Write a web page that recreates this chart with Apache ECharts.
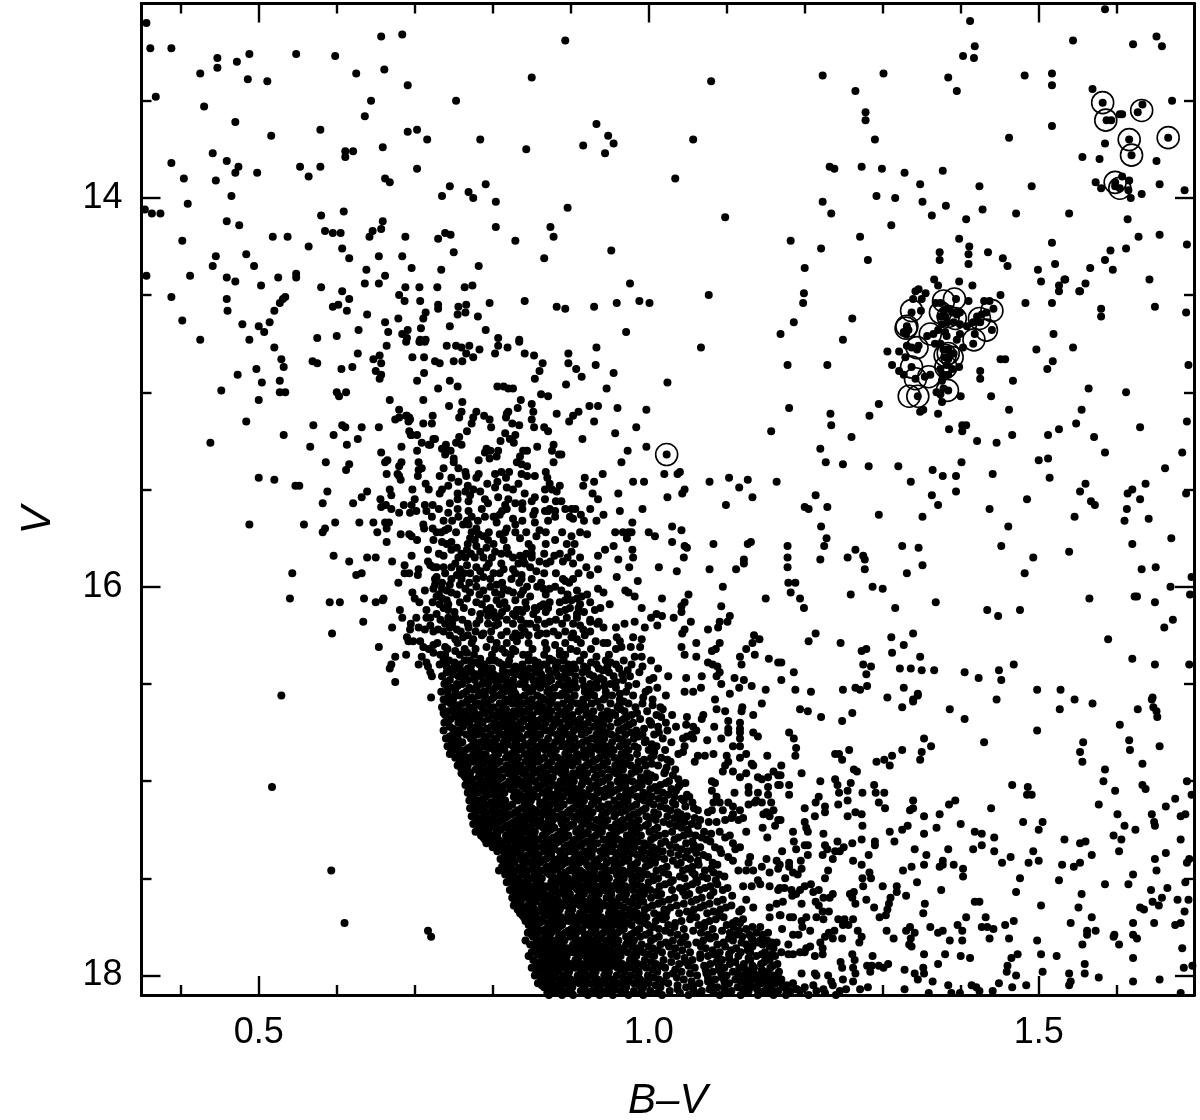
<!DOCTYPE html>
<html><head><meta charset="utf-8">
<style>html,body{margin:0;padding:0;background:#fff}#c{width:1200px;height:1120px}</style>
<script src="https://cdn.jsdelivr.net/npm/echarts@6/dist/echarts.min.js"></script>
</head><body><div id="c"></div>
<script>
// B-V is stored in thousandths, V in magnitudes: pairs of (B-V*1000, V)
const fieldUpperLeft=[356,13.10,361,13.23,388,13.23,447,13.28,488,13.26,472,13.30,447,13.33,425,13.36,486,13.39,511,13.40,548,13.26,598,13.27,625,13.36,657,13.17,684,13.16,661,13.34,691,13.42,368,13.48,430,13.53,644,13.50,636,13.58,753,13.50,470,13.61,516,13.68,579,13.65,691,13.66,703,13.65,716,13.70,784,13.70,843,13.75,611,13.76,621,13.76,611,13.79,659,13.74,441,13.77,388,13.82,459,13.81,474,13.84,470,13.87,498,13.87,404,13.90,445,13.91,553,13.84,564,13.89,579,13.84,703,13.85,662,13.90,668,13.92,745,13.94,735,13.99,769,13.97,775,14.00,791,13.93,804,14.02,465,13.99,409,14.03,354,14.06,363,14.08,374,14.08,580,14.09,609,14.07,459,14.12,475,14.14,659,14.12,585,14.17,595,14.18,605,14.18,646,14.17,642,14.20,657,14.16,518,14.20,537,14.20,688,14.20,730,14.21,739,14.18,746,14.19,804,14.15,829,14.22,402,14.22,564,14.25,607,14.26,750,14.28,445,14.30,484,14.29,654,14.30,684,14.30,616,14.31,441,14.35,494,14.35,696,14.36,782,14.35,638,14.37,734,14.37,356,14.40,412,14.40,459,14.41,470,14.43,503,14.45,525,14.41,548,14.39,548,14.41,662,14.40,636,14.44,654,14.44,580,14.46,688,14.46,706,14.46,729,14.46,764,14.46,774,14.45,607,14.48,388,14.51,459,14.52,534,14.51,531,14.52,527,14.54,680,14.50,687,14.53,616,14.52,707,14.53,841,14.53,796,14.54,595,14.56,602,14.55,730,14.55,730,14.57,766,14.55,756,14.56,460,14.58,520,14.58,613,14.58,639,14.60,714,14.59,765,14.59,755,14.60,781,14.61,711,14.62,679,14.62,402,14.63,662,14.64,514,14.64,479,14.65,500,14.66,708,14.67,745,14.66,628,14.68,691,14.68,507,14.69,666,14.69,791,14.68,600,14.71,575,14.72,684,14.70,690,14.72,488,14.73,425,14.73,807,14.72,834,14.73,714,14.73,707,14.73];
const fieldUpperRight=[893,13.19,850,13.38,1080,13.40,933,13.62,948,13.68,955,13.72,916,13.73,944,13.77,1057,13.70,1034,13.90,896,14.05,1098,14.10,874,14.15,878,14.20,866,14.31,952,14.27,976,14.44,882,14.56,893,14.57,930,14.56,959,14.54,988,14.53,1001,14.54,1077,14.50,971,14.69,1223,13.37,1301,13.36,1265,13.45,1278,13.56,1278,13.60,1290,13.70,1232,13.84,1238,13.85,1273,13.84,1299,13.85,1328,13.87,1377,13.86,1348,13.93,1424,13.94,1491,13.94,1292,13.99,1316,14.00,1223,14.02,1234,14.08,1351,14.02,1381,14.04,1363,14.09,1428,14.06,1471,14.08,1407,14.11,1311,14.14,1182,14.22,1221,14.26,1271,14.20,1281,14.32,1200,14.36,1398,14.21,1411,14.25,1410,14.29,1410,14.34,1373,14.28,1373,14.32,1435,14.28,1454,14.31,1460,14.35,1517,14.23,1521,14.34,1499,14.37,1503,14.43,1534,14.42,1526,14.45,1526,14.48,1552,14.48,1517,14.54,1199,14.49,1198,14.54,1186,14.64,1261,14.62,1412,13.09,1418,13.22,1403,13.27,1417,13.28,1384,13.38,1395,13.45,1482,13.37,1517,13.36,1517,13.42,1517,13.63,1462,13.69];
const fieldTopCorner=[1585,13.03,1544,13.19,1621,13.21,1651,13.17,1658,13.22,1569,13.44,1582,13.51,1671,13.50,1633,13.52,1627,13.56,1607,13.57,1604,13.57,1587,13.60,1593,13.60,1616,13.70,1666,13.69,1585,13.72,1619,13.78,1556,13.79,1578,13.80,1651,13.81,1607,13.89,1616,13.91,1598,13.92,1598,13.94,1604,13.95,1573,13.92,1580,13.95,1615,13.96,1618,14.00,1655,13.93,1632,13.98,1687,13.96,1539,14.08,1614,14.11,1628,14.20,1655,14.19,1690,14.24,1592,14.27,1612,14.26,1585,14.32,1566,14.36,1595,14.37,1533,14.42,1560,14.44,1642,14.42,1553,14.48,1580,14.57,1580,14.61,1649,14.56,1689,14.59];
const clumpStars=[1366,14.42,1371,14.45,1398,14.43,1415,14.45,1342,14.48,1346,14.47,1355,14.49,1339,14.52,1350,14.52,1337,14.59,1349,14.58,1394,14.52,1410,14.53,1368,14.54,1430,14.53,1437,14.53,1451,14.50,1483,14.54,1374,14.54,1378,14.58,1384,14.57,1374,14.61,1380,14.61,1389,14.59,1395,14.60,1399,14.59,1383,14.64,1391,14.64,1376,14.65,1399,14.65,1421,14.61,1427,14.60,1442,14.57,1433,14.59,1416,14.64,1425,14.64,1408,14.66,1440,14.68,1418,14.70,1416,14.75,1399,14.70,1395,14.73,1331,14.66,1327,14.69,1333,14.68,1330,14.70,1357,14.71,1365,14.70,1371,14.68,1380,14.69,1382,14.71,1374,14.75,1367,14.75,1306,14.79,1321,14.79,1312,14.86,1321,14.89,1331,14.76,1337,14.77,1346,14.76,1344,14.78,1329,14.82,1378,14.78,1384,14.78,1386,14.81,1380,14.82,1384,14.83,1391,14.80,1382,14.86,1398,14.87,1389,14.88,1374,14.88,1378,14.91,1384,14.91,1403,14.77,1337,14.87,1327,14.91,1342,14.93,1354,14.92,1361,14.91,1376,14.94,1369,15.00,1374,15.01,1378,14.98,1384,14.99,1400,15.02,1376,15.05,1345,15.02];
const fieldMidRight=[1169,14.70,1067,14.77,1249,14.73,1519,14.70,1178,14.86,1229,14.86,1024,14.95,1497,14.78,1544,14.77,1451,14.83,1457,14.83,1518,14.84,1511,14.88,1692,14.86,1425,14.89,1425,14.93,1467,14.94,1564,14.98,1612,15.00,1439,15.02,1180,15.08,1233,15.11,1295,15.06,1283,15.12,1348,15.10,1352,15.09,1371,15.11,1462,15.09,1555,15.09,1234,15.17,1157,15.20,1260,15.23,1385,15.19,1402,15.17,1407,15.17,1402,15.20,1421,15.25,1446,15.26,1466,15.22,1512,15.22,1526,15.19,1548,15.16,1571,15.23,1630,15.18,1690,15.15,1585,15.31,1684,15.31,1220,15.29,1227,15.36,1249,15.37,1282,15.38,1320,15.38,1401,15.36,1500,15.35,1512,15.34,1662,15.39,1040,15.41,1078,15.46,1103,15.44,1116,15.49,1127,15.45,1164,15.46,1336,15.46,1364,15.40,1377,15.43,1394,15.43,1441,15.42,1514,15.44,1560,15.47,1553,15.51,1637,15.47,1620,15.50,1614,15.52,1630,15.55,1689,15.52,1046,15.50,1043,15.52,1133,15.54,1099,15.58,1214,15.53,1229,15.59,1200,15.59,1205,15.60,1363,15.53,1394,15.51,1371,15.58,1485,15.55,1437,15.60,1567,15.56,1572,15.58,1613,15.60,1295,15.63,1351,15.64,1546,15.64,1610,15.66,1641,15.65,1461,15.69,1221,15.69,1042,15.71,1228,15.75,1225,15.79,1220,15.86,1131,15.77,1127,15.78,1083,15.78,1178,15.79,1178,15.85,1178,15.90,1046,15.79,1049,15.80,1045,15.85,1265,15.81,1255,15.85,1275,15.84,1277,15.86,1277,15.91,1325,15.79,1346,15.80,1452,15.79,1620,15.78,1670,15.75,1539,15.82,1493,15.85,1122,15.86,1122,15.88,1112,15.91,1078,15.91,1351,15.89,1331,15.93,1482,15.93,1632,15.91,1650,15.90,1179,15.98,1188,15.98,1182,16.03,1194,16.06,1199,16.11,1095,16.00,1287,16.00,1300,16.01,1669,16.00,1696,15.95,1694,16.04,1051,16.04,1259,16.04,1565,16.06,1623,16.05,1626,16.05,1150,16.06,1046,16.08,1042,16.10,1042,16.13,1649,16.08,1368,16.08,1093,16.10,1316,16.11,1434,16.12,1448,16.15,1476,16.12,1104,16.15,1091,16.18,1101,16.18,1089,16.21,1054,16.18,1076,16.22,1046,16.22,1043,16.24,1672,16.17,1661,16.21,1214,16.24,1205,16.28,1339,16.24,1311,16.26,1327,16.30,1312,16.34,1589,16.27,1246,16.29,1135,16.25,1142,16.27,1133,16.29,1125,16.32,1091,16.29,1086,16.32,1081,16.33,1061,16.29,1042,16.31,1046,16.35,1061,16.36,1273,16.33,1279,16.32,1136,16.35,1117,16.36,1119,16.40,1348,16.36,1620,16.37,1649,16.40,1693,16.40,1468,16.40,1154,16.37,1166,16.39,1170,16.39,1076,16.39,1082,16.40,1088,16.41,1091,16.44,1087,16.46,1093,16.50,1275,16.40,1285,16.41,1279,16.45,1322,16.42,1336,16.42,1350,16.43,1366,16.43,1405,16.44,1423,16.47,1449,16.43,1452,16.48,1186,16.44,1170,16.48,1048,16.47,1068,16.46,1110,16.47,1122,16.48,1116,16.52,1132,16.51,1067,16.52,1057,16.54,1046,16.54,1280,16.51,1265,16.52,1271,16.53,1249,16.53,1327,16.52,1150,16.53,1188,16.53,1208,16.54,1104,16.55,1345,16.55,1339,16.58,1306,16.57,1498,16.53,1528,16.53,1446,16.58,1546,16.58,1646,16.57];
const fieldLowerRight=[1569,16.60,1527,16.63,1627,16.63,1645,16.58,1647,16.62,1651,16.64,1652,16.67,1194,16.63,1204,16.64,1221,16.67,1248,16.69,1261,16.65,1325,16.62,1339,16.59,1345,16.56,1386,16.63,1405,16.68,1498,16.74,1604,16.71,1180,16.75,1186,16.78,1189,16.83,1188,16.87,1353,16.78,1362,16.82,1350,16.85,1348,16.89,1430,16.80,1557,16.80,1553,16.85,1556,16.90,1616,16.79,1617,16.84,1655,16.82,1633,16.91,1239,16.86,1244,16.86,1248,16.89,1257,16.84,1325,16.84,1312,16.87,1302,16.89,1309,16.92,1292,16.90,1170,16.92,1169,16.97,1168,17.02,1196,16.96,1263,16.94,1267,16.95,1585,16.94,1583,17.00,1598,17.05,1633,17.02,1637,17.04,1690,17.00,1696,17.07,1220,17.00,1239,16.99,1242,17.02,1244,17.06,1259,17.01,1255,17.05,1289,17.02,1291,17.06,1302,17.06,1274,17.06,1180,17.02,1180,17.07,1466,17.02,1486,17.03,1485,17.07,1491,17.07,1218,17.08,1214,17.11,1226,17.13,1255,17.10,1243,17.12,1295,17.11,1303,17.14,1339,17.10,1339,17.14,1335,17.15,1393,17.10,1385,17.12,1439,17.14,1577,17.12,1675,17.09,1663,17.13,1688,17.17,1682,17.18,1200,17.14,1213,17.18,1226,17.16,1255,17.18,1265,17.16,1273,17.17,1353,17.18,1373,17.17,1601,17.17,1645,17.17,1169,17.20,1200,17.21,1202,17.24,1204,17.26,1274,17.23,1332,17.23,1325,17.25,1309,17.26,1315,17.31,1369,17.24,1400,17.22,1480,17.21,1505,17.21,1500,17.25,1610,17.23,1624,17.25,1648,17.21,1649,17.23,1353,17.27,1418,17.26,1427,17.27,1443,17.29,1185,17.26,1186,17.31,1224,17.27,1242,17.31,1261,17.32,1273,17.30,1290,17.31,1290,17.33,1533,17.30,1560,17.31,1553,17.32,1596,17.28,1606,17.30,1682,17.30,1200,17.33,1204,17.33,1189,17.35,1226,17.33,1229,17.35,1239,17.36,1245,17.36,1250,17.34,1341,17.35,1384,17.35,1427,17.33,1416,17.35,1443,17.36,1493,17.36,1603,17.36,1568,17.38,1663,17.37,1171,17.36,1204,17.38,1195,17.41,1223,17.38,1236,17.40,1282,17.38,1262,17.41,1273,17.43,1356,17.38,1353,17.43,1377,17.41,1377,17.43,1373,17.44,1391,17.43,1464,17.39,1453,17.42,1500,17.41,1487,17.42,1530,17.43,1553,17.42,1545,17.44,1649,17.40,1693,17.40,1690,17.42,1180,17.42,1168,17.43,1180,17.44,1185,17.47,1191,17.48,1196,17.45,1337,17.44,1326,17.46,1403,17.45,1403,17.49,1230,17.46,1226,17.50,1175,17.50,1283,17.47,1274,17.50,1285,17.50,1651,17.46,1621,17.48,1476,17.50,1526,17.51,1344,17.52,1585,17.53,1615,17.53,1688,17.52,1275,17.54,1300,17.54,1318,17.54,1318,17.57,1174,17.55,1168,17.55,1208,17.53,1200,17.54,1194,17.56,1183,17.56,1375,17.56,1471,17.57,1644,17.56,1665,17.55,1555,17.58,1211,17.57,1218,17.56,1236,17.58,1263,17.57,1258,17.58,1261,17.60,1265,17.63,1184,17.59,1189,17.58,1196,17.63,1172,17.62,1330,17.59,1310,17.60,1308,17.63,1306,17.66,1279,17.61,1232,17.60,1224,17.60,1218,17.64,1214,17.62,1418,17.62,1424,17.62,1503,17.64,1678,17.61,1692,17.61,1658,17.60,1646,17.62,1654,17.64,1354,17.63,1352,17.68,1289,17.65,1304,17.69,1296,17.70,1551,17.65,1630,17.65,1635,17.66,1687,17.67,1231,17.67,1223,17.67,1215,17.70,1224,17.71,1407,17.70,1432,17.70,1468,17.72,1568,17.70,1541,17.73,1169,17.69,1181,17.70,1185,17.70,1202,17.70,1196,17.72,1197,17.75,1243,17.71,1251,17.71,1262,17.71,1256,17.74,1249,17.74,1648,17.73,1621,17.73,1675,17.74,1682,17.73,1427,17.75,1434,17.75,1442,17.76,1457,17.74,1396,17.74,1402,17.77,1361,17.75,1377,17.77,1371,17.78,1335,17.75,1330,17.77,1341,17.78,1336,17.81,1305,17.77,1314,17.81,1562,17.77,1573,17.77,1562,17.79,1171,17.76,1207,17.77,1268,17.77,1273,17.80,1270,17.83,1238,17.77,1231,17.78,1226,17.80,1236,17.81,1248,17.81,1185,17.79,1192,17.79,1597,17.79,1596,17.80,1603,17.84,1621,17.79,1626,17.81,1386,17.82,1402,17.82,1437,17.81,1462,17.81,1498,17.82,1556,17.84,1334,17.84,1337,17.85,1220,17.83,1223,17.86,1207,17.85,1223,17.89,1684,17.86,1179,17.84,1202,17.86,1200,17.88,1213,17.90,1194,17.88,1185,17.89,1179,17.89,1170,17.88,1353,17.89,1380,17.89,1400,17.90,1412,17.91,1473,17.89,1465,17.91,1503,17.89,1523,17.90,1621,17.91,1261,17.89,1264,17.92,1287,17.90,1371,17.94,1352,17.96,1246,17.93,1248,17.96,1262,17.96,1265,17.99,1262,18.03,1559,17.94,1697,17.95,1686,17.96,1280,17.95,1286,17.95,1295,17.95,1301,17.96,1307,17.94,1284,17.98,1460,17.95,1459,17.98,1471,18.00,1328,17.97,1341,17.99,1345,18.02,1353,17.99,1505,17.98,1539,17.99,1559,17.99,1577,18.01,1213,17.99,1215,18.00,1196,17.99,1230,18.00,1249,18.02,1234,18.03,1364,18.03,1449,18.04,1621,18.03,1655,18.02,1541,18.03,1539,18.05,1384,18.05,1414,18.05,1420,18.06,1424,18.08,1466,18.06,1484,18.05,1281,18.06,1328,18.07,1271,18.07,1441,18.08,1359,18.09,1388,18.09,1399,18.09,1682,18.09,1211,18.05,1224,18.07,1236,18.05,1253,18.07,1245,18.08,1189,18.07,1177,18.05,1170,18.04,1194,18.08,1185,18.04];
const fieldLeftEdge=[520,14.77,529,14.83,532,14.87,569,14.84,575,14.85,606,14.88,620,14.87,627,14.80,664,14.76,647,14.83,655,14.81,657,14.85,697,14.82,712,14.82,706,14.74,650,14.89,657,14.91,655,14.93,712,14.90,703,14.94,473,14.91,497,14.88,504,14.95,527,14.94,452,14.99,527,15.00,534,15.00,500,15.04,600,15.00,603,15.02,612,15.00,668,15.04,711,15.04,680,15.09,675,15.14,680,15.13,689,15.12,693,15.13,692,15.15,711,15.16,723,15.12,722,15.16,484,15.15,570,15.17,607,15.17,611,15.18,632,15.18,654,15.18,532,15.22,596,15.22,627,15.24,693,15.20,695,15.22,703,15.22,438,15.26,566,15.28,613,15.27,709,15.26,720,15.27,718,15.27,724,15.24,683,15.28,703,15.30,657,15.31,586,15.36,616,15.37,612,15.40,662,15.36,665,15.35,683,15.36,680,15.38,705,15.36,709,15.39,705,15.40,704,15.43,664,15.42,678,15.42,680,15.43,682,15.45,500,15.44,520,15.45,547,15.48,552,15.48,714,15.47,718,15.50,588,15.51,639,15.51,632,15.54,668,15.50,670,15.53,697,15.50,700,15.55,582,15.57,621,15.57,656,15.55,657,15.59,663,15.58,670,15.60,686,15.58,696,15.58,713,15.58,723,15.58,680,15.62,694,15.62,702,15.61,715,15.61,722,15.64,488,15.68,558,15.68,585,15.70,582,15.72,598,15.67,629,15.67,647,15.67,662,15.67,667,15.67,664,15.70,652,15.72,664,15.77,682,15.73,693,15.73,696,15.74,703,15.76,711,15.68,712,15.70,723,15.70,724,15.76,717,15.81,596,15.84,616,15.87,639,15.85,650,15.85,671,15.87,696,15.84,717,15.87,720,15.89,724,15.90,687,15.89,687,15.93,693,15.93,704,15.94,705,15.91,543,15.93,625,15.94,632,15.93,726,15.96,679,15.98,713,16.02,724,16.01,540,16.06,591,16.08,604,16.08,635,16.06,650,16.08,659,16.07,697,16.03,700,16.06,706,16.08,681,16.12,684,16.16,702,16.16,715,16.12,715,16.16,720,16.16,634,16.18,671,16.21,695,16.19,694,16.22,705,16.21,713,16.22,720,16.20,724,16.23,594,16.24,690,16.26,692,16.28,698,16.28,707,16.28,711,16.31,718,16.32,724,16.30,654,16.31,689,16.35,675,16.36,709,16.36,724,16.34,670,16.40,668,16.42,705,16.40,715,16.39,717,16.41,720,16.44,722,16.46,675,16.49,529,16.56,721,16.57,517,17.03,593,17.46,610,17.73,717,17.77,721,17.80];
const fieldCentre=[933,14.77,897,14.80,897,14.85,907,14.88,914,14.92,932,14.86,955,14.90,894,14.96,946,14.98,689,14.74,707,14.74,713,14.74,741,14.76,753,14.76,760,14.77,770,14.76,766,14.80,783,14.78,807,14.76,803,14.80,819,14.77,834,14.74,841,14.80,853,14.81,864,14.85,860,14.89,854,14.93,726,14.84,732,14.85,750,14.84,761,14.84,775,14.82,745,14.94,755,14.97,730,14.98,806,14.97,814,14.97,820,14.98,826,14.98,744,15.07,761,15.05,836,15.04,862,15.01,871,15.02,850,15.06,852,15.10,832,15.08,820,15.10,924,15.07,935,15.07,960,15.08,997,15.09,910,15.10,903,15.12,898,15.15,882,15.11,930,15.15,690,15.12,694,15.14,760,15.10,757,15.13,779,15.10,775,15.13,773,15.16,789,15.12,796,15.14,818,15.11,817,15.13,825,15.16,834,15.17,850,15.14,853,15.18,984,15.18,957,15.21,866,15.18,871,15.20,798,15.18,767,15.20,696,15.22,816,15.21,829,15.22,810,15.25,822,15.24,827,15.26,915,15.24,757,15.23,753,15.26,760,15.27,726,15.24,878,15.27,876,15.30,857,15.28,839,15.30,844,15.30,885,15.32,888,15.32,878,15.36,973,15.30,997,15.28,965,15.36,740,15.27,735,15.29,741,15.30,746,15.30,739,15.32,792,15.29,797,15.30,790,15.31,796,15.34,807,15.30,805,15.33,782,15.35,835,15.33,831,15.36,837,15.37,844,15.38,750,15.34,750,15.36,737,15.39,756,15.39,765,15.41,766,15.43,782,15.42,803,15.42,811,15.41,821,15.41,779,15.44,837,15.42,844,15.43,854,15.43,868,15.41,870,15.44,873,15.47,918,15.44,916,15.48,930,15.46,941,15.42,980,15.46,994,15.46,1020,15.42,1037,15.42,732,15.43,747,15.44,756,15.46,743,15.48,735,15.50,732,15.52,793,15.47,806,15.46,803,15.49,817,15.44,826,15.50,833,15.47,818,15.49,886,15.48,867,15.50,882,15.51,876,15.50,768,15.48,765,15.51,775,15.50,784,15.51,771,15.53,755,15.52,755,15.55,745,15.57,769,15.56,790,15.55,794,15.57,807,15.54,841,15.52,854,15.54,867,15.55,850,15.56,961,15.52,928,15.52,935,15.55,1024,15.54,888,15.56,881,15.56,820,15.55,816,15.58,829,15.57,838,15.57,743,15.62,755,15.60,769,15.61,773,15.64,756,15.64,790,15.64,812,15.61,818,15.60,809,15.63,803,15.64,854,15.61,852,15.63,867,15.61,873,15.60,880,15.61,880,15.64,871,15.61,893,15.60,901,15.60,906,15.60,913,15.63,899,15.64,903,15.65,942,15.63,933,15.66,963,15.61,992,15.60,737,15.66,767,15.66,769,15.68,762,15.68,826,15.65,829,15.68,818,15.70,801,15.64,805,15.67,854,15.67,979,15.67,860,15.71,843,15.72,835,15.75,856,15.74,743,15.70,739,15.71,734,15.72,779,15.70,773,15.72,782,15.73,788,15.74,777,15.76,771,15.75,794,15.76,809,15.73,814,15.76,816,15.72,912,15.72,921,15.73,901,15.74,880,15.76,895,15.78,957,15.72,967,15.72,974,15.72,978,15.72,972,15.75,1000,15.72,1008,15.74,1030,15.69,1030,15.77,735,15.77,747,15.77,737,15.84,747,15.81,754,15.80,760,15.83,756,15.85,767,15.81,765,15.85,779,15.79,784,15.82,777,15.85,788,15.85,792,15.80,803,15.82,799,15.85,818,15.80,820,15.83,826,15.85,835,15.84,839,15.86,833,15.88,850,15.80,850,15.83,850,15.85,860,15.87,879,15.84,874,15.87,890,15.87,912,15.85,901,15.82,896,15.85,935,15.84,944,15.81,955,15.79,935,15.91,979,15.81,980,15.85,961,15.86,975,15.90,1013,15.90,1036,15.92,959,15.95,986,15.97,920,15.90,925,15.94,728,15.90,737,15.90,747,15.90,767,15.89,758,15.91,779,15.90,784,15.92,771,15.93,792,15.90,811,15.88,814,15.91,826,15.91,837,15.94,809,15.93,824,15.96,848,15.90,856,15.92,850,15.96,837,15.96,890,15.96,903,15.96,893,15.97,728,15.95,754,15.94,747,15.96,760,15.96,788,15.95,797,15.96,779,15.96,805,15.99,726,15.99,735,16.01,741,16.02,745,15.99,660,16.06,779,16.00,788,16.02,765,16.01,758,15.99,797,16.00,814,16.01,820,16.02,826,16.03,844,16.00,839,16.02,857,16.00,865,16.01,873,16.01,880,16.00,888,16.02,908,16.02,935,16.01,942,16.03,970,16.02,974,16.03,982,16.05,1017,16.06,728,16.05,735,16.06,741,16.07,747,16.03,732,16.09,743,16.09,767,16.06,771,16.03,786,16.09,792,16.06,805,16.07,803,16.03,829,16.07,848,16.05,809,16.09,831,16.12,826,16.14,835,16.12,829,16.15,865,16.09,861,16.10,856,16.12,852,16.14,854,16.11,893,16.07,901,16.07,908,16.06,914,16.05,912,16.09,910,16.11,908,16.14,893,16.12,950,16.09,991,16.11,931,16.12,938,16.11,1010,16.14,1003,16.16,1017,16.15,1032,16.16,925,16.18,936,16.18,982,16.18,969,16.19,958,16.21,942,16.21,995,16.21,1011,16.20,728,16.14,743,16.12,743,16.16,752,16.16,739,16.19,784,16.14,792,16.12,801,16.13,794,16.15,803,16.16,809,16.15,803,16.20,807,16.19,895,16.16,903,16.19,908,16.16,912,16.20,916,16.22,730,16.22,745,16.21,754,16.22,769,16.21,779,16.19,873,16.18,867,16.19,848,16.19,837,16.21,856,16.21,861,16.24,846,16.25,869,16.24,829,16.24,826,16.26,831,16.28,903,16.24,908,16.27,901,16.26,932,16.28,947,16.29,959,16.26,963,16.28,980,16.26,991,16.27,965,16.31,977,16.31,989,16.31,739,16.31,752,16.27,762,16.26,775,16.27,788,16.24,797,16.27,739,16.35,752,16.33,767,16.34,784,16.37,792,16.31,803,16.32,816,16.34,829,16.33,839,16.35,880,16.30,886,16.33,908,16.33,893,16.35,873,16.37,933,16.36,982,16.36,991,16.36];
const fieldFaintEdge=[1085,16.58,1098,16.64,1087,16.63,1070,16.66,1068,16.68,1049,16.67,1048,16.71,1057,16.72,1061,16.74,1055,16.76,1057,16.78,1049,16.77,1044,16.78,1084,16.72,1075,16.79,1093,16.78,1102,16.69,1102,16.73,1102,16.75,1117,16.70,1117,16.73,1117,16.75,1117,16.78,1119,16.64,1134,16.66,1120,16.62,1145,16.60,1134,16.75,1140,16.77,1152,16.87,1046,16.82,1044,16.85,1063,16.87,1072,16.87,1083,16.86,1059,16.90,1108,16.82,1117,16.82,1125,16.86,1117,16.88,1100,16.87,1098,16.92,1095,16.95,1102,16.90,1108,16.95,1117,16.98,1125,16.96,1134,16.92,1140,16.98,1145,16.99,1132,16.91,1153,16.98,1160,16.95,1166,16.97,1153,17.03,1166,17.02,1128,17.03,1128,17.06,1140,17.06,1138,17.10,1153,17.07,1110,17.06,1081,17.05,1087,17.08,1083,17.11,1081,17.15,1091,17.11,1076,17.16,1081,17.00,1085,17.01,1102,17.11,1095,17.15,1108,17.13,1117,17.15,1108,17.17,1128,17.12,1136,17.11,1145,17.11,1157,17.11,1151,17.16,1160,17.15,1147,17.17,1121,17.19,1115,17.20,1106,17.19,1098,17.20,1087,17.21,1155,17.18,1166,17.20,1146,17.24,1162,17.23,1125,17.26,1152,17.29,1091,17.26,1098,17.29,1104,17.28,1108,17.32,1117,17.34,1111,17.35,1130,17.39,1151,17.40,1164,17.41,1128,17.42,1134,17.46,1145,17.44,1155,17.47,1166,17.45,1125,17.46,1108,17.41,1115,17.46,1102,17.39,1093,17.37,1140,17.51,1121,17.54,1132,17.54,1143,17.53,1155,17.54,1166,17.56,1125,17.61,1134,17.65,1119,17.66,1155,17.65,1155,17.70,1168,17.69,1164,17.63,1117,17.73,1143,17.75,1153,17.78,1164,17.83,1158,17.89,1130,17.88,1134,17.82,1143,17.82];
const openCircleStars=[1582,13.51,1632,13.55,1586,13.60,1616,13.70,1666,13.69,1619,13.78,1598,13.92,1604,13.95,1023,15.32,1337,14.58,1330,14.67,1331,14.66,1378,14.53,1392,14.52,1374,14.59,1384,14.61,1393,14.62,1424,14.62,1440,14.58,1433,14.68,1417,14.73,1361,14.70,1344,14.77,1380,14.81,1384,14.80,1389,14.82,1337,14.87,1342,14.93,1359,14.92,1381,14.87,1383,14.99,1345,15.02,1334,15.02];
const circledCentres=[1023,15.32];
// Main-sequence core, 15.6 to 16.37: each row is V followed by the B-V*1000 values read along it
const coreRows=[
[15.60,731,786,838,925],[15.66,748,781,838,871,917],[15.72,728,753,795,829,868,889],[15.78,741,768,801,846,868,905],
[15.83,731,772,811,843,866,886],[15.88,752,795,841,869,903],[15.93,739,763,801,829,866,881,910],[15.98,735,770,812,834,862,898],
[16.04,731,754,783,811,836,868,896,921],[16.08,723,758,779,815,842,873,886,925],[16.11,737,763,797,818,843,871,899],
[16.13,751,773,812,838,868,886,917],[16.17,733,761,783,818,836,858,881,925],[16.19,748,768,794,826,843,889,934],
[16.23,737,759,778,798,818,841,878,893,925],[16.25,745,768,786,811,836,858,884,918],[16.29,729,755,773,805,818,846,867,893,913,942],
[16.32,742,764,778,812,826,851,869,900,926,958],[16.35,733,758,776,799,823,846,866,886,917,949]
];
// Dense main sequence: each row is V followed by the B-V*1000 values read along it
const denseRows=[
[16.38,737,744,764,771,796,803,821,846,853,877,891,912,945,968,1003],
[16.40,732,758,783,789,812,820,838,866,869,897,904,933,958,978],
[16.42,749,753,768,795,799,828,831,847,860,890,906,921,936,962,1012],
[16.44,741,763,773,792,816,824,843,855,881,899,915,949,988],
[16.46,735,756,765,785,808,817,837,849,873,884,906,929,955,976,1025],
[16.48,745,768,777,801,810,826,852,858,875,896,915,942,967,1001],
[16.50,738,754,761,787,794,819,835,862,868,885,899,925,951,984],
[16.52,747,770,779,803,812,842,844,861,879,907,934,958,1011],
[16.54,734,752,766,788,800,815,827,848,870,893,918,945,971,996],
[16.56,743,758,782,790,808,824,841,857,880,887,905,930,953,980,1022],
[16.58,737,749,768,775,798,816,831,850,866,876,897,916,942,963,1005],
[16.60,746,761,781,793,809,825,839,860,874,890,908,927,951,974,992],
[16.62,735,756,770,786,801,814,834,849,864,883,899,919,938,960,983,1015],
[16.64,743,763,776,792,808,827,842,858,875,892,910,929,947,969,998],
[16.66,739,751,767,783,800,819,832,851,866,884,902,920,940,957,978,1010,1030],
[16.68,746,761,778,794,813,824,841,862,876,893,912,931,949,968,989],
[16.70,738,756,770,787,802,818,835,850,868,886,903,922,939,960,980,1003,1022],
[16.72,745,762,779,798,811,828,846,860,877,895,913,930,951,971,1012,1035],
[16.74,737,754,774,786,804,820,833,853,869,887,904,923,941,962,984,1024],
[16.76,749,766,780,797,812,829,845,861,882,896,914,933,952,970,992,1007],
[16.78,740,755,772,791,805,821,838,854,871,888,905,927,943,961,981,1018],
[16.80,748,761,784,798,814,830,849,863,880,900,916,934,953,973,995,1029],
[16.82,742,756,773,790,806,826,839,855,872,889,907,925,945,963,982,1010],
[16.84,750,765,783,802,815,832,848,867,881,899,917,936,955,974,1000,1021],
[16.86,745,758,775,791,807,824,841,857,874,893,908,926,949,965,985,1038],
[16.88,752,770,784,800,817,833,852,866,883,900,919,937,956,976,1003,1016],
[16.90,758,776,793,809,828,842,858,875,892,909,928,947,966,987,1028],
[16.92,755,768,785,802,818,835,851,870,884,902,920,941,957,977,996,1012],
[16.94,762,778,794,813,827,843,860,876,893,911,929,948,967,988,1034],
[16.96,760,771,787,803,820,839,852,869,888,903,921,940,958,978,998,1020],
[16.98,765,782,796,812,828,845,861,877,895,915,931,949,969,990,1008],
[17.00,770,788,805,821,838,854,873,887,904,923,941,960,979,1000,1026],
[17.02,765,780,797,816,830,846,862,879,899,914,932,951,970,991,1015,1040],
[17.04,772,789,806,823,842,855,872,888,906,924,945,961,981,1002,1029],
[17.06,768,781,800,815,831,847,864,883,897,915,934,952,971,993,1018],
[17.08,774,791,807,827,840,857,873,890,907,926,943,963,985,1004,1033,1052],
[17.10,770,783,803,816,832,849,868,881,899,917,935,956,973,994,1020,1045],
[17.12,776,792,809,825,842,861,874,891,909,927,948,964,984,1006,1034],
[17.14,771,786,801,817,837,850,866,883,903,918,936,955,974,996,1022,1058],
[17.16,778,793,810,829,843,859,876,896,910,928,946,965,987,1007,1037],
[17.18,773,789,802,819,835,851,871,884,902,919,940,956,975,997,1024,1049],
[17.20,780,795,812,831,844,861,877,894,912,933,947,967,987,1009,1040,1066],
[17.22,775,787,804,823,836,853,869,889,903,921,939,958,979,999,1027,1055],
[17.24,782,796,815,829,846,865,879,895,913,931,952,968,988,1011,1042],
[17.26,778,792,805,822,840,854,870,887,907,922,940,959,978,1001,1030,1071],
[17.28,785,798,817,831,847,864,883,897,914,932,950,972,990,1013,1045,1060],
[17.30,790,807,825,840,858,872,889,906,927,942,961,980,1003,1033,1074],
[17.32,792,802,816,832,851,865,881,901,916,934,952,971,994,1016,1048],
[17.34,800,811,825,843,857,874,892,908,925,943,964,982,1005,1035,1066,1085],
[17.36,806,818,836,850,866,886,899,917,938,953,972,993,1018,1050],
[17.38,815,826,845,859,875,892,911,927,945,964,985,1006,1038,1070],
[17.40,810,820,835,853,868,884,904,918,936,957,974,995,1020,1053],
[17.42,818,828,847,860,880,893,911,930,946,965,985,1008,1041,1082],
[17.44,812,823,837,856,869,886,902,923,938,956,977,996,1023,1056],
[17.46,808,829,845,864,878,898,912,930,951,967,987,1010,1044,1072],
[17.48,816,825,838,854,873,887,906,921,939,959,977,998,1025,1059,1090],
[17.50,822,831,850,863,880,896,914,934,949,968,990,1012,1046,1075],
[17.52,818,827,840,856,875,889,905,925,941,959,980,1000,1028,1062],
[17.54,826,835,849,867,881,901,915,933,953,970,990,1014,1049,1079],
[17.56,822,829,841,858,877,890,909,924,942,962,980,1002,1030,1065,1095],
[17.58,829,838,852,866,885,899,917,936,952,971,994,1016,1052],
[17.60,825,833,843,861,875,894,908,926,946,962,981,1003,1033,1068],
[17.62,830,836,855,868,885,903,918,936,954,975,993,1018,1055,1088],
[17.64,827,833,845,863,877,893,912,927,945,963,986,1005,1036,1071,1106],
[17.66,832,841,854,873,886,902,922,937,955,975,995,1020,1058,1092],
[17.68,835,847,866,879,897,912,929,949,965,985,1007,1039,1075],
[17.70,840,855,875,888,904,923,939,957,978,997,1022,1061,1096],
[17.72,842,851,864,882,897,913,932,948,966,988,1009,1042,1078,1112],
[17.74,846,857,876,889,908,923,940,960,978,999,1025,1064,1100],
[17.76,850,868,882,901,915,932,952,968,988,1013,1045,1082,1125],
[17.78,845,858,875,893,907,926,942,960,981,1001,1028,1067,1104,1138],
[17.80,852,867,885,900,918,933,951,971,989,1013,1047,1085,1120],
[17.82,842,860,878,892,911,926,945,961,981,1003,1031,1070,1108,1152],
[17.84,848,869,885,903,918,935,955,971,991,1015,1050,1088,1125,1146],
[17.86,855,863,878,896,910,929,945,963,984,1005,1034,1073,1112,1160],
[17.88,850,870,888,903,921,937,954,973,993,1017,1053,1091,1118,1149],
[17.90,846,863,881,895,912,929,948,964,984,1007,1036,1076,1115,1138,1162],
[17.92,852,872,888,906,921,938,956,976,995,1019,1056,1094,1130,1155],
[17.94,857,866,881,899,913,932,948,966,986,1009,1039,1079,1104,1122,1144,1165],
[17.96,850,873,891,906,923,940,960,976,997,1021,1059,1097,1116,1135,1156],
[17.98,858,866,884,898,917,932,949,969,987,1011,1042,1082,1108,1128,1148,1167],
[18.00,854,875,891,909,924,943,959,977,999,1023,1062,1100,1120,1140,1160],
[18.02,862,868,886,900,917,934,953,969,989,1013,1045,1085,1111,1132,1152,1170],
[18.04,858,876,893,911,926,943,961,981,1000,1025,1065,1103,1124,1144,1163],
[18.06,866,870,887,902,918,937,953,971,993,1015,1048,1088,1114,1136,1156,1172,1200],
[18.08,875,878,894,913,927,945,964,981,1002,1027,1068,1106,1128,1148,1166,1182,1215],
[18.10,872,889,903,922,937,954,974,993,1017,1051,1091,1118,1140,1160,1176,1205,1240]
];
// Values read along half-way rows, which break up the core and fill it toward black
const denseInfill=[
[16.39,751,779,808,858,883,926,951],[16.41,741,772,829,855,881,917,947,992],[16.43,759,786,813,839,872,898,941,973],[16.45,749,778,801,830,862,893,924,966],
[16.47,776,795,842,866,889,938,1006],[16.49,740,762,788,818,841,871,905,933,958],[16.51,755,780,806,827,853,891,917,943,974],[16.53,742,775,795,822,851,872,899,926,1000],
[16.55,762,784,811,829,873,889,925,963],[16.57,750,773,801,834,862,896,921,944,993],[16.59,741,767,789,821,845,871,901,934,968],[16.61,755,778,813,833,855,883,917,962,1005],
[16.63,749,773,797,817,846,871,895,913,964,1018],[16.65,737,758,789,812,836,864,887,921,953,985],[16.67,754,775,806,828,848,871,897,926,944,972,1016],[16.69,742,769,786,815,839,857,882,908,935,963,1001],
[16.71,761,782,807,827,855,879,898,917,942,975,1003],[16.73,749,772,793,819,837,866,889,909,936,967,994],[16.75,758,779,808,825,849,875,892,919,946,978,1013],[16.77,745,771,789,816,835,857,884,902,937,958,987],
[16.79,747,775,803,829,851,884,899,921,936,966,996],[16.81,753,778,794,819,843,868,893,911,940,969,1004],[16.83,746,769,797,811,836,860,877,904,931,950,986],[16.85,757,779,805,828,853,879,895,922,943,970,1007],
[16.87,763,787,803,821,845,878,897,914,944,971,1006],[16.89,761,779,797,824,846,861,887,905,932,961,994,1024],[16.91,766,788,805,831,849,871,897,923,942,971,1004],[16.93,759,782,798,822,847,865,889,915,935,963,985,1023],
[16.95,769,791,807,834,856,881,893,917,955,983,1021],[16.97,763,783,800,825,843,866,891,908,934,962,1003,1031],[16.99,774,793,808,832,850,869,899,919,945,973,995,1038],[17.01,767,785,801,826,843,867,893,915,936,966,987,1022,1047],
[17.03,775,794,811,838,859,883,901,929,967,987,1008,1038],[17.05,769,786,802,827,848,869,895,911,938,956,976,1011,1035],[17.07,776,795,812,835,852,877,901,921,949,977,998,1025,1049],[17.09,772,788,804,830,845,869,886,913,931,968,989,1013,1042],
[17.11,781,798,813,841,861,879,907,929,969,1001,1031,1056],[17.13,776,789,805,821,847,870,887,914,940,960,979,1015,1047],[17.15,783,799,815,832,855,872,899,923,950,970,992,1028,1063],[17.17,778,791,806,824,848,865,889,916,941,957,981,1012,1041],
[17.19,786,800,816,838,854,881,907,925,975,1003,1033,1059],[17.21,782,793,808,827,851,871,888,917,943,963,983,1019,1046,1077],[17.23,788,801,818,841,860,876,900,926,944,973,996,1035,1063],[17.25,784,795,810,834,849,874,891,910,936,964,983,1007,1050],
[17.27,793,806,827,851,867,892,919,936,955,984,1021,1052,1080],[17.29,788,803,821,836,853,878,893,911,927,957,975,1007,1038,1068],[17.31,796,812,829,845,869,885,903,921,948,966,986,1021,1056,1079],[17.33,804,819,838,854,877,896,913,929,955,977,999,1027,1058],
[17.35,812,829,848,866,879,903,929,947,968,991,1011,1042,1057,1091],[17.37,820,831,853,871,887,905,922,941,958,979,1001,1028,1061],[17.39,822,838,855,873,889,908,923,942,968,991,1012,1047,1076],[17.41,814,826,843,862,879,898,914,933,952,971,1002,1031,1063],
[17.43,823,840,855,876,889,907,921,934,961,981,1001,1037,1064,1088],[17.45,818,834,851,872,883,907,925,944,961,982,1017,1050,1080],[17.47,824,837,855,870,893,915,929,946,973,992,1019,1056,1083],[17.49,827,844,859,876,891,910,927,944,963,984,1006,1040,1069,1097],
[17.51,833,845,885,901,920,943,961,979,1006,1031,1061,1086],[17.53,829,844,861,879,895,910,929,947,965,985,1021,1056,1088],[17.55,832,854,873,891,907,921,940,958,976,996,1040,1072,1101],[17.57,826,846,864,881,897,913,931,948,967,988,1010,1044,1083],
[17.59,835,856,871,893,911,930,951,966,987,1012,1047,1079,1107],[17.61,828,848,866,880,899,913,932,952,970,989,1026,1061,1095],[17.63,833,851,872,890,908,925,941,959,980,1012,1045,1078],[17.65,837,849,867,881,898,917,932,950,968,999,1028,1066,1099],
[17.67,843,860,875,899,915,933,957,981,1023,1049,1083,1116],[17.69,838,853,870,884,901,917,935,953,972,993,1014,1055,1091],[17.71,846,862,880,893,910,928,945,963,985,1018,1053,1086,1121],[17.73,848,860,871,887,904,919,936,953,972,994,1034,1072,1108],
[17.75,853,873,885,906,928,946,968,1006,1033,1071,1109,1133],[17.77,855,863,880,897,912,927,946,964,984,1021,1057,1094,1116],[17.79,850,871,887,904,921,938,956,977,996,1037,1076,1112,1129,1146],[17.81,857,873,889,906,923,939,957,975,1007,1044,1079,1103,1132],
[17.83,856,868,880,914,930,948,973,1022,1041,1061,1096,1119,1140,1158],[17.85,859,875,890,907,923,941,960,979,1000,1026,1067,1098,1133,1155],[17.87,854,867,884,900,916,933,950,968,989,1011,1043,1082,1106,1127],[17.89,858,876,893,909,926,942,960,979,1000,1029,1066,1084,1103,1145],
[17.91,864,871,886,921,934,951,978,1046,1066,1089,1103,1128,1150],[17.93,860,877,895,910,927,943,961,982,1003,1029,1047,1087,1111,1148],[17.95,862,871,888,904,919,937,954,972,993,1015,1051,1071,1090,1133,1159],[17.97,856,879,896,913,929,945,964,983,1005,1034,1073,1090,1124,1145],
[17.99,869,873,929,945,987,1031,1053,1074,1093,1114,1135,1154],[18.01,864,881,897,914,931,948,967,985,1006,1036,1076,1094,1127,1147,1166],[18.03,868,874,889,906,921,939,956,975,995,1019,1055,1076,1097,1118,1140,1158],[18.05,863,882,899,916,933,950,968,988,1009,1037,1057,1080,1098,1130,1152],
[18.07,881,885,936,957,991,1037,1057,1078,1097,1121,1139,1158,1190],[18.09,870,884,901,918,933,952,970,990,1011,1040,1060,1083,1100,1125,1153,1177,1226]
];
const xMajorTicks=[0.5,1.0,1.5];
const xMinorTicks=[0.4,0.6,0.7,0.8,0.9,1.1,1.2,1.3,1.4,1.6];
const yMajorTicks=[14,16,18];
const yMinorTicks=[13.5,14.5,15,15.5,16.5,17,17.5];

function pairs(a){const r=[];for(let i=0;i<a.length;i+=2)r.push([a[i]/1000,a[i+1]]);return r;}
const filled=[].concat(
 pairs(fieldUpperLeft),pairs(fieldUpperRight),pairs(fieldTopCorner),pairs(clumpStars),
 pairs(fieldMidRight),pairs(fieldLowerRight),pairs(fieldLeftEdge),pairs(fieldCentre),pairs(fieldFaintEdge),pairs(circledCentres));
[coreRows,denseRows,denseInfill].forEach(t=>t.forEach(r=>{for(let i=1;i<r.length;i++)filled.push([r[i]/1000,r[0]]);}));

const X=[0.3497,1.6991],Y=[13.0,18.1];
const lineStyle={color:'#000',width:3};
function xa(pos,vals,len,extra){return Object.assign({type:'value',position:pos,min:X[0],max:X[1],splitLine:{show:false},
  axisLine:{show:true,onZero:false,lineStyle:lineStyle},
  axisTick:{show:true,inside:true,length:len,lineStyle:{color:'#000',width:2.4},customValues:vals},
  axisLabel:{show:false}},extra||{});}
function ya(pos,vals,len,extra){return Object.assign({type:'value',position:pos,inverse:true,min:Y[0],max:Y[1],splitLine:{show:false},
  axisLine:{show:true,onZero:false,lineStyle:lineStyle},
  axisTick:{show:true,inside:true,length:len,lineStyle:{color:'#000',width:2.4},customValues:vals},
  axisLabel:{show:false}},extra||{});}
const font='"Liberation Sans",Arial,sans-serif';
const chart=echarts.init(document.getElementById('c'),null,{renderer:'canvas'});
chart.setOption({
 animation:false,backgroundColor:'#fff',
 grid:{left:141.5,top:3.5,width:1052.5,height:991.5,containLabel:false,outerBoundsMode:'none'},
 xAxis:[
  xa('bottom',xMajorTicks,19,{name:'B\u2013V',nameLocation:'middle',nameGap:106,
    nameTextStyle:{fontFamily:font,fontStyle:'italic',fontSize:42,color:'#000',verticalAlign:'middle'},
    axisLabel:{show:true,margin:20,fontFamily:font,fontSize:36,color:'#000',customValues:xMajorTicks,formatter:v=>v.toFixed(1)}}),
  xa('bottom',xMinorTicks,10),xa('top',xMajorTicks,19),xa('top',xMinorTicks,10)
 ],
 yAxis:[
  ya('left',yMajorTicks,19,{name:'V',nameLocation:'middle',nameGap:82,
    nameTextStyle:{fontFamily:font,fontStyle:'italic',fontSize:42,color:'#000',padding:[0,42,0,0]},
    axisLabel:{show:true,margin:19,fontFamily:font,fontSize:36,color:'#000',customValues:yMajorTicks,formatter:v=>String(v)}}),
  ya('left',yMinorTicks,10),ya('right',yMajorTicks,19),ya('right',yMinorTicks,10)
 ],
 series:[
  {type:'scatter',xAxisIndex:0,yAxisIndex:0,data:filled,symbol:'circle',symbolSize:8,itemStyle:{color:'#000',opacity:1},silent:true,clip:true,large:false},
  {type:'scatter',xAxisIndex:0,yAxisIndex:0,data:pairs(openCircleStars),symbol:'circle',symbolSize:22,
   itemStyle:{color:'rgba(0,0,0,0)',borderColor:'#000',borderWidth:1.6,opacity:1},silent:true,clip:true}
 ]
});
</script></body></html>
